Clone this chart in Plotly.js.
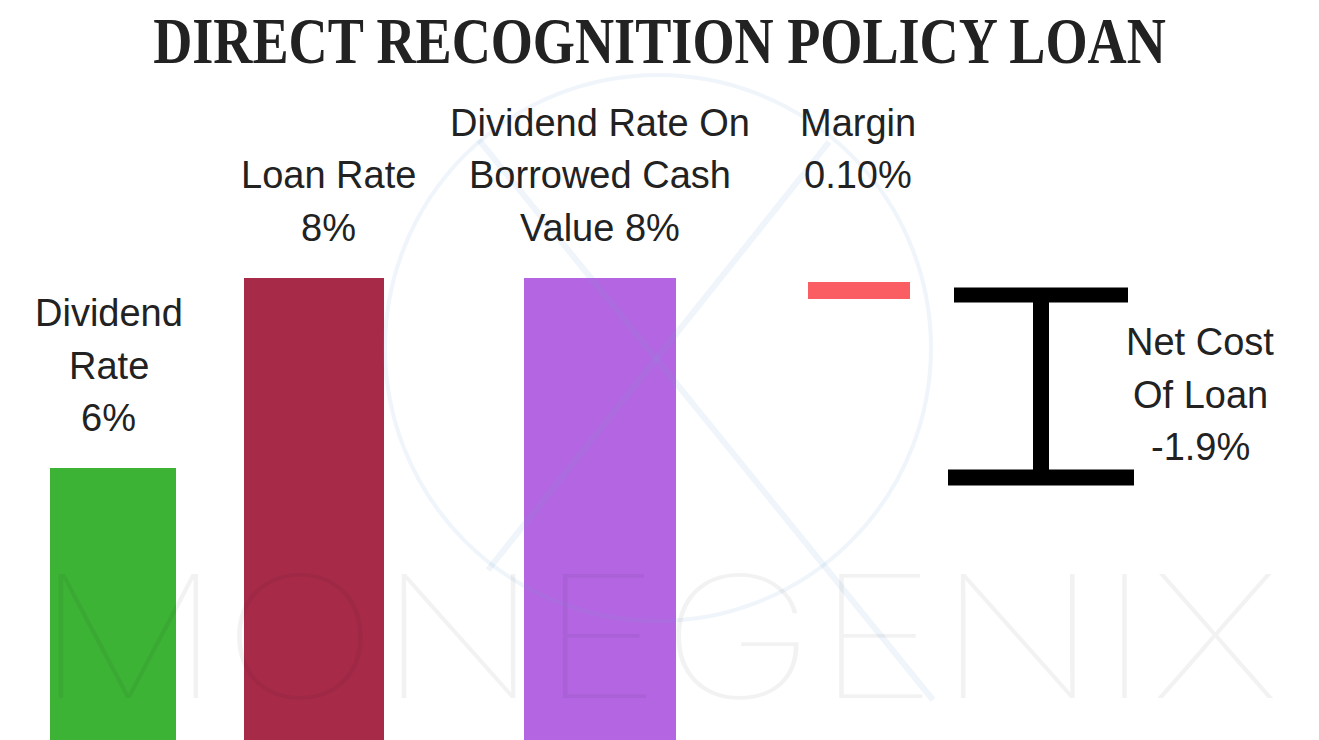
<!DOCTYPE html>
<html>
<head>
<meta charset="utf-8">
<script src="https://cdn.plot.ly/plotly-3.0.1.min.js"></script>
<style>
  html, body { margin: 0; padding: 0; background: #ffffff; }
  #chart { width: 1319px; height: 740px; }
</style>
</head>
<body>
<div id="chart"></div>
<script>
// ---------------- DATA ----------------
const chartTitle = "DIRECT RECOGNITION POLICY LOAN";
const barCategories = ["Dividend Rate", "Loan Rate", "Dividend Rate On Borrowed Cash Value"];
const barValues = [6, 8, 8];                 // %
const marginRate = 0.10;                     // % (label)
const marginBarRange = [7.78, 7.96];         // bar extent
const netCostOfLoan = -1.9;                  // % (label)
const netCostRange = [5.90, 7.82];           // I-beam extent
const labelLines = [
  ["Dividend", "Rate", "6%"],
  ["Loan Rate", "8%"],
  ["Dividend Rate On", "Borrowed Cash", "Value 8%"],
  ["Margin", "0.10%"],
  ["Net Cost", "Of Loan", "-1.9%"]
];
const watermarkText = "MONEGENIX";

// ---------------- LAYOUT CONSTANTS ----------------
const W = 1319, H = 740;
const slotCenters = [113, 314, 600, 859, 1041];
const barWidths = [126, 140, 152, 102];
const barColors = ["#3db336", "#a72b49", "#b466e2"];
const marginColor = "#fa5e62";
const labelX = [109, 328, 600, 858, 1200];
const labelTopY = [313, 175, 123, 123, 342];   // px, centre of first line
const lineGap = 52.5;
const yMin = 3.137, yMax = 10.926;
const flangeHalf = [87, 93];                   // top, bottom
const beamThick = 15;

const traces = [
  {
    type: "bar",
    x: slotCenters.slice(0, 3),
    y: barValues,
    width: barWidths.slice(0, 3),
    marker: { color: barColors, line: { width: 0 } },
    hoverinfo: "skip"
  },
  {
    type: "bar",
    x: [slotCenters[3]],
    base: [marginBarRange[0]],
    y: [marginBarRange[1] - marginBarRange[0]],
    width: [barWidths[3]],
    marker: { color: marginColor, line: { width: 0 } },
    hoverinfo: "skip"
  },
  // I-beam: top flange, bottom flange, web
  {
    type: "scatter", mode: "lines",
    x: [slotCenters[4] - flangeHalf[0], slotCenters[4] + flangeHalf[0]],
    y: [netCostRange[1], netCostRange[1]],
    line: { color: "#000000", width: beamThick },
    hoverinfo: "skip"
  },
  {
    type: "scatter", mode: "lines",
    x: [slotCenters[4] - flangeHalf[1], slotCenters[4] + flangeHalf[1]],
    y: [netCostRange[0], netCostRange[0]],
    line: { color: "#000000", width: beamThick + 1 },
    hoverinfo: "skip"
  },
  {
    type: "scatter", mode: "lines",
    x: [slotCenters[4], slotCenters[4]],
    y: [netCostRange[0], netCostRange[1]],
    line: { color: "#000000", width: beamThick + 1 },
    hoverinfo: "skip"
  }
];

const annotations = [];
labelLines.forEach((lines, i) => {
  lines.forEach((t, j) => {
    annotations.push({
      text: t,
      x: labelX[i] / W, xref: "paper", xanchor: "center",
      y: 1 - (labelTopY[i] + j * lineGap) / H, yref: "paper", yanchor: "middle",
      showarrow: false,
      font: { family: "Liberation Sans, Arial, sans-serif", size: 38, color: "#222222" }
    });
  });
});
// watermark text
annotations.push({
  text: watermarkText,
  x: 657 / W, xref: "paper", xanchor: "center",
  y: 1 - 636 / H, yref: "paper", yanchor: "middle",
  showarrow: false,
  font: { family: "Inter, Lato, sans-serif", size: 170, color: "rgba(0,0,0,0.05)", weight: 100 }
});

const wm = "rgba(110,160,210,0.11)";
const px = v => v / W, py = v => 1 - v / H;
const shapes = [
  { type: "circle", xref: "paper", yref: "paper", x0: px(385), x1: px(931), y0: py(75), y1: py(621),
    line: { color: wm, width: 4 }, layer: "above" },
  { type: "line", xref: "paper", yref: "paper", x0: px(479), y0: py(140), x1: px(933), y1: py(700),
    line: { color: wm, width: 6 }, layer: "above" },
  { type: "line", xref: "paper", yref: "paper", x0: px(829), y0: py(142), x1: px(488), y1: py(570),
    line: { color: wm, width: 6 }, layer: "above" }
];

const layout = {
  width: W, height: H,
  margin: { l: 0, r: 0, t: 0, b: 0, pad: 0 },
  paper_bgcolor: "#ffffff", plot_bgcolor: "#ffffff",
  showlegend: false,
  bargap: 0,
  title: {
    text: chartTitle,
    x: 0.5, xanchor: "center", xref: "paper",
    y: 1 - 40 / H, yanchor: "middle", yref: "container",
    font: { family: "Liberation Serif, Times New Roman, serif", size: 66, color: "#222222", weight: "bold" }
  },
  xaxis: { range: [0, W], visible: false, fixedrange: true },
  yaxis: { range: [yMin, yMax], visible: false, fixedrange: true },
  annotations: annotations,
  shapes: shapes
};

function squeeze(el, targetWidth) {
  const bb = el.getBBox();
  if (!bb.width) return;
  const sx = targetWidth / bb.width;
  const cx = bb.x + bb.width / 2;
  el.setAttribute("transform", "translate(" + cx + ",0) scale(" + sx + ",1) translate(" + (-cx) + ",0)");
}

Plotly.newPlot("chart", traces, layout, { displayModeBar: false, staticPlot: true }).then(() => {
  const t = document.querySelector(".gtitle");
  if (t) squeeze(t, 1013);
  document.querySelectorAll(".annotation-text").forEach(el => {
    if (el.textContent === watermarkText) squeeze(el, 1245);
  });
});
</script>
</body>
</html>
